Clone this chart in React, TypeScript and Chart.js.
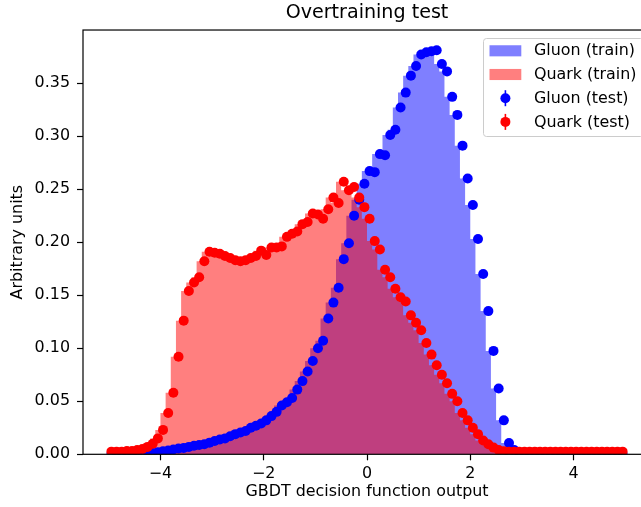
import React, { useEffect, useRef } from 'react';
import { Chart, registerables } from 'chart.js';

Chart.register(...registerables);

// Histogram binning: 100 bins of width 0.1 from -5 to 5
const BIN_START = -5;
const BIN_WIDTH = 0.1;

const gluonTrain = [
  0, 0, 0, 0, 0, 0.0002, 0.0004, 0.0008, 0.0013, 0.002,
  0.0028, 0.0035, 0.0045, 0.0055, 0.006, 0.007, 0.008, 0.0088, 0.0095, 0.011,
  0.0125, 0.014, 0.015, 0.017, 0.019, 0.0205, 0.022, 0.025, 0.027, 0.029,
  0.032, 0.036, 0.040, 0.046, 0.049, 0.053, 0.061, 0.069, 0.078, 0.088,
  0.100, 0.107, 0.128, 0.143, 0.157, 0.184, 0.199, 0.225, 0.240, 0.255,
  0.267, 0.266, 0.283, 0.282, 0.301, 0.306, 0.327, 0.341, 0.357, 0.366,
  0.377, 0.379, 0.380, 0.381, 0.368, 0.361, 0.337, 0.320, 0.291, 0.260,
  0.235, 0.203, 0.170, 0.135, 0.0975, 0.062, 0.032, 0.0107, 0.004, 0.0015,
  0.001, 0.0007, 0.0005, 0.0003, 0.0002, 0, 0, 0, 0, 0,
  0, 0, 0, 0, 0, 0, 0, 0, 0, 0,
];

const quarkTrain = [
  0.0025, 0.0025, 0.0025, 0.003, 0.003, 0.004, 0.005, 0.007, 0.010, 0.015,
  0.023, 0.039, 0.058, 0.092, 0.126, 0.154, 0.162, 0.167, 0.182, 0.191,
  0.190, 0.189, 0.187, 0.185, 0.183, 0.182, 0.183, 0.185, 0.187, 0.192,
  0.188, 0.195, 0.195, 0.196, 0.205, 0.208, 0.210, 0.217, 0.219, 0.227,
  0.226, 0.222, 0.231, 0.242, 0.237, 0.257, 0.249, 0.252, 0.242, 0.233,
  0.222, 0.201, 0.193, 0.174, 0.167, 0.156, 0.148, 0.144, 0.131, 0.124,
  0.117, 0.105, 0.094, 0.084, 0.075, 0.067, 0.057, 0.050, 0.039, 0.032,
  0.025, 0.019, 0.013, 0.0095, 0.0063, 0.0041, 0.0028, 0.0025, 0.0025, 0.0025,
  0.0025, 0.0025, 0.0025, 0.0025, 0.0025, 0.0025, 0.0025, 0.0025, 0.0025, 0.0025,
  0.0025, 0.0025, 0.0025, 0.0025, 0.0025, 0.0025, 0.0025, 0.0025, 0.0025, 0.0025,
];

const gluonTest = [
  0, 0, 0, 0, 0, 0.0002, 0.0004, 0.0008, 0.0013, 0.002,
  0.0028, 0.0035, 0.0045, 0.0055, 0.006, 0.007, 0.008, 0.0088, 0.0095, 0.011,
  0.0125, 0.014, 0.015, 0.017, 0.019, 0.0205, 0.022, 0.025, 0.027, 0.029,
  0.032, 0.036, 0.040, 0.046, 0.049, 0.053, 0.061, 0.069, 0.078, 0.088,
  0.100, 0.107, 0.128, 0.143, 0.157, 0.184, 0.199, 0.225, 0.240, 0.255,
  0.267, 0.266, 0.283, 0.282, 0.301, 0.306, 0.327, 0.341, 0.357, 0.366,
  0.377, 0.379, 0.380, 0.381, 0.368, 0.361, 0.337, 0.320, 0.291, 0.260,
  0.235, 0.203, 0.170, 0.135, 0.0975, 0.062, 0.032, 0.0107, 0.004, 0.0015,
  0.001, 0.0007, 0.0005, 0.0003, 0.0002, 0.0001, 0, 0, 0, 0,
  0, 0, 0, 0, 0, 0, 0, 0, 0, 0,
];

const quarkTest = [
  0.0025, 0.0025, 0.0025, 0.003, 0.003, 0.004, 0.005, 0.007, 0.010, 0.015,
  0.023, 0.039, 0.058, 0.092, 0.126, 0.154, 0.162, 0.167, 0.182, 0.191,
  0.190, 0.189, 0.187, 0.185, 0.183, 0.182, 0.183, 0.185, 0.187, 0.192,
  0.188, 0.195, 0.195, 0.196, 0.205, 0.208, 0.210, 0.217, 0.219, 0.227,
  0.226, 0.222, 0.231, 0.242, 0.237, 0.257, 0.249, 0.252, 0.242, 0.233,
  0.222, 0.201, 0.193, 0.174, 0.167, 0.156, 0.148, 0.144, 0.131, 0.124,
  0.117, 0.105, 0.094, 0.084, 0.075, 0.067, 0.057, 0.050, 0.039, 0.032,
  0.025, 0.019, 0.013, 0.0095, 0.0063, 0.0041, 0.0028, 0.0025, 0.0025, 0.0025,
  0.0025, 0.0025, 0.0025, 0.0025, 0.0025, 0.0025, 0.0025, 0.0025, 0.0025, 0.0025,
  0.0025, 0.0025, 0.0025, 0.0025, 0.0025, 0.0025, 0.0025, 0.0025, 0.0025, 0.0025,
];

const xTicks = [-4, -2, 0, 2, 4];
const yTicks = [0, 0.05, 0.1, 0.15, 0.2, 0.25, 0.3, 0.35];
const legendLabels = ['Gluon (train)', 'Quark (train)', 'Gluon (test)', 'Quark (test)'];

const TITLE = 'Overtraining test';
const X_LABEL = 'GBDT decision function output';
const Y_LABEL = 'Arbitrary units';

const BLUE = '#0000ff';
const RED = '#ff0000';
const BLUE_FILL = 'rgba(0,0,255,0.5)';
const RED_FILL = 'rgba(255,0,0,0.5)';
const FONT = 'DejaVu Sans';

function stepPoints(vals: number[]) {
  const pts = vals.map((v, i) => ({ x: BIN_START + i * BIN_WIDTH, y: v }));
  pts.push({ x: BIN_START + vals.length * BIN_WIDTH, y: vals[vals.length - 1] });
  return pts;
}

function centerPoints(vals: number[]) {
  return vals.map((v, i) => ({ x: BIN_START + (i + 0.5) * BIN_WIDTH, y: v }));
}

const framePlugin = {
  id: 'mplFrame',
  afterDatasetsDraw(chart: any) {
    const { ctx, chartArea } = chart;
    ctx.save();
    ctx.strokeStyle = '#000';
    ctx.lineWidth = 1.2;
    ctx.strokeRect(chartArea.left, chartArea.top, chartArea.right - chartArea.left, chartArea.bottom - chartArea.top);
    ctx.restore();
  },
};

const legendPlugin = {
  id: 'mplLegend',
  afterDraw(chart: any) {
    const ctx = chart.ctx as CanvasRenderingContext2D;
    ctx.save();
    const x0 = 483.5;
    const y0 = 38.5;
    const w = 160;
    const h = 98;
    ctx.beginPath();
    (ctx as any).roundRect(x0, y0, w, h, 3);
    ctx.fillStyle = 'rgba(255,255,255,0.8)';
    ctx.fill();
    ctx.strokeStyle = '#cccccc';
    ctx.lineWidth = 1;
    ctx.stroke();

    const rows = [50.8, 74.5, 98.2, 121.9];
    const handleX = 489.5;
    const handleW = 31.8;
    const handleH = 11.1;
    const textX = 534;
    const kinds = [
      { type: 'rect', color: BLUE_FILL },
      { type: 'rect', color: RED_FILL },
      { type: 'dot', color: BLUE },
      { type: 'dot', color: RED },
    ];
    ctx.font = `15.9px "${FONT}"`;
    ctx.textBaseline = 'middle';
    ctx.textAlign = 'left';
    legendLabels.forEach((label, i) => {
      const cy = rows[i];
      const k = kinds[i];
      if (k.type === 'rect') {
        ctx.fillStyle = k.color;
        ctx.fillRect(handleX, cy - handleH / 2, handleW, handleH);
      } else {
        const cx = handleX + handleW / 2;
        ctx.strokeStyle = k.color;
        ctx.lineWidth = 1.6;
        ctx.beginPath();
        ctx.moveTo(cx, cy - 8);
        ctx.lineTo(cx, cy + 8);
        ctx.stroke();
        ctx.fillStyle = k.color;
        ctx.beginPath();
        ctx.arc(cx, cy, 5, 0, Math.PI * 2);
        ctx.fill();
      }
      ctx.fillStyle = '#000';
      ctx.fillText(label, textX, cy + 0.5);
    });
    ctx.restore();
  },
};

export default function App() {
  const ref = useRef<HTMLCanvasElement | null>(null);

  useEffect(() => {
    if (!ref.current) return;
    const chart = new Chart(ref.current, {
      type: 'line',
      data: {
        datasets: [
          {
            label: legendLabels[0],
            data: stepPoints(gluonTrain),
            stepped: 'after',
            fill: 'origin',
            backgroundColor: BLUE_FILL,
            borderColor: 'rgba(0,0,0,0)',
            borderWidth: 0,
            pointRadius: 0,
            order: 4,
            clip: 0,
          },
          {
            label: legendLabels[1],
            data: stepPoints(quarkTrain),
            stepped: 'after',
            fill: 'origin',
            backgroundColor: RED_FILL,
            borderColor: 'rgba(0,0,0,0)',
            borderWidth: 0,
            pointRadius: 0,
            order: 3,
            clip: 0,
          },
          {
            label: legendLabels[2],
            data: centerPoints(gluonTest),
            showLine: false,
            pointRadius: 5,
            pointBorderWidth: 0,
            pointBackgroundColor: BLUE,
            pointBorderColor: BLUE,
            order: 2,
            clip: 0,
          },
          {
            label: legendLabels[3],
            data: centerPoints(quarkTest),
            showLine: false,
            pointRadius: 5,
            pointBorderWidth: 0,
            pointBackgroundColor: RED,
            pointBorderColor: RED,
            order: 1,
            clip: 0,
          },
        ] as any,
      },
      options: {
        responsive: false,
        animation: false,
        devicePixelRatio: 1,
        events: [],
        layout: { padding: { left: 0, right: 9, top: 0, bottom: 0 } },
        plugins: {
          legend: { display: false },
          tooltip: { enabled: false },
          title: {
            display: true,
            text: TITLE,
            fullSize: false,
            color: '#000',
            font: { family: FONT, size: 19.1, weight: 'normal' },
            padding: { top: 1.9, bottom: 5.2 },
          },
        },
        scales: {
          x: {
            type: 'linear',
            min: -5.5,
            max: 5.5,
            afterFit: (scale: any) => { scale.height = 52.7; },
            afterBuildTicks: (scale: any) => { scale.ticks = xTicks.map((v) => ({ value: v })); },
            ticks: {
              autoSkip: false,
              maxRotation: 0,
              padding: 4,
              color: '#000',
              font: { family: FONT, size: 15.9 },
              callback: (v: any) => (Number(v) < 0 ? '\u2212' + Math.abs(Number(v)) : String(v)),
            },
            grid: { display: true, drawOnChartArea: false, drawTicks: true, tickLength: 6, tickColor: '#000', tickWidth: 1.2 },
            border: { display: false },
            title: {
              display: true,
              text: X_LABEL,
              color: '#000',
              font: { family: FONT, size: 15.9 },
              padding: { top: 0, bottom: 5.8 },
            },
          },
          y: {
            type: 'linear',
            min: 0,
            max: 0.4,
            afterFit: (scale: any) => { scale.width = 83; },
            afterBuildTicks: (scale: any) => { scale.ticks = yTicks.map((v) => ({ value: v })); },
            ticks: {
              autoSkip: false,
              padding: 7,
              color: '#000',
              font: { family: FONT, size: 15.9 },
              callback: (v: any) => Number(v).toFixed(2),
            },
            grid: { display: true, drawOnChartArea: false, drawTicks: true, tickLength: 6, tickColor: '#000', tickWidth: 1.2 },
            border: { display: false },
            title: {
              display: true,
              text: Y_LABEL,
              color: '#000',
              font: { family: FONT, size: 15.9 },
              padding: { top: 8.8, bottom: 0 },
            },
          },
        },
      } as any,
      plugins: [framePlugin, legendPlugin],
    });
    return () => chart.destroy();
  }, []);

  return (
    <div style={{ position: 'fixed', left: 0, top: 0, width: 641, height: 507, overflow: 'hidden', background: '#fff' }}>
      <canvas ref={ref} width={660} height={507} style={{ display: 'block', width: 660, height: 507 }} />
    </div>
  );
}
